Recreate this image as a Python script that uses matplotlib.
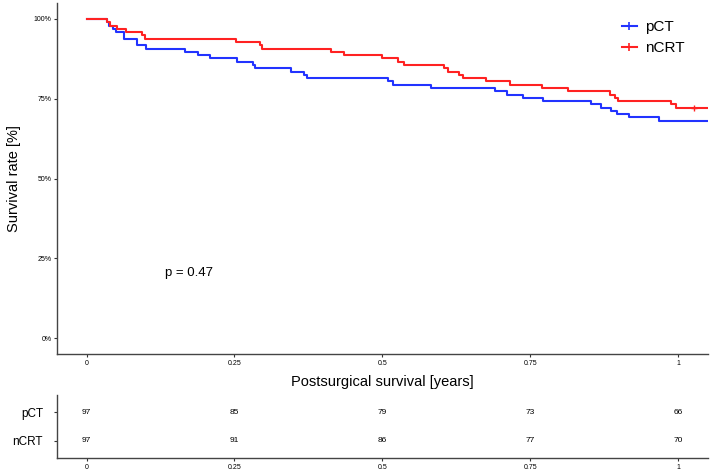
import numpy as np
import matplotlib
matplotlib.use("Agg")
import matplotlib.pyplot as plt
from matplotlib.lines import Line2D

plt.rcParams['font.family'] = ['Liberation Sans', 'DejaVu Sans']

# Kaplan-Meier curves (time in years, survival fraction)
t_pct = [0, 0.034, 0.038, 0.044, 0.049, 0.064, 0.085, 0.100, 0.167, 0.189, 0.209,
         0.255, 0.282, 0.285, 0.345, 0.367, 0.372, 0.509, 0.518, 0.582, 0.690,
         0.710, 0.737, 0.772, 0.852, 0.869, 0.887, 0.897, 0.917, 0.967, 1.05]
s_pct = [1.0, 0.990, 0.979, 0.969, 0.959, 0.938, 0.918, 0.907, 0.897, 0.887, 0.876,
         0.866, 0.856, 0.845, 0.835, 0.825, 0.814, 0.804, 0.794, 0.784, 0.773,
         0.763, 0.753, 0.742, 0.732, 0.722, 0.711, 0.701, 0.691, 0.680, 0.680]

t_ncrt = [0, 0.034, 0.040, 0.051, 0.066, 0.094, 0.098, 0.253, 0.293, 0.297, 0.413,
          0.436, 0.500, 0.527, 0.537, 0.605, 0.611, 0.629, 0.636, 0.675, 0.715,
          0.770, 0.813, 0.885, 0.894, 0.899, 0.988, 0.997, 1.05]
s_ncrt = [1.0, 0.990, 0.979, 0.969, 0.959, 0.948, 0.938, 0.928, 0.918, 0.907, 0.897,
          0.887, 0.876, 0.866, 0.856, 0.845, 0.835, 0.825, 0.814, 0.804, 0.794,
          0.784, 0.773, 0.763, 0.753, 0.742, 0.732, 0.722, 0.722]
censor_ncrt_t = [1.027]
censor_ncrt_s = [0.722]

groups = ['pCT', 'nCRT']
colors = ['#2233ff', '#ff2222']

# numbers at risk
risk_times = [0, 0.25, 0.5, 0.75, 1]
risk_pct = [97, 85, 79, 73, 66]
risk_ncrt = [97, 91, 86, 77, 70]

xticks = [0, 0.25, 0.5, 0.75, 1]
xlabels = ['0', '0.25', '0.5', '0.75', '1']
yticks = [0, 0.25, 0.5, 0.75, 1.0]
ylabels = ['0%', '25%', '50%', '75%', '100%']

fig = plt.figure(figsize=(7.12, 4.71), dpi=100)
ax = fig.add_axes([0.080, 0.248, 0.914, 0.746])

ax.step(t_pct, s_pct, where='post', color=colors[0], lw=1.5)
ax.step(t_ncrt, s_ncrt, where='post', color=colors[1], lw=1.5)
ax.plot(censor_ncrt_t, censor_ncrt_s, '+', color=colors[1], ms=5, mew=1)

ax.set_xlim(-0.05, 1.05)
ax.set_ylim(-0.05, 1.05)
ax.set_xticks(xticks)
ax.set_xticklabels(xlabels)
ax.set_yticks(yticks)
ax.set_yticklabels(ylabels)
ax.tick_params(labelsize=5, length=2, width=0.8, color='#333333', pad=2)
for side in ['top', 'right']:
    ax.spines[side].set_visible(False)
for side in ['left', 'bottom']:
    ax.spines[side].set_color('#444444')
    ax.spines[side].set_linewidth(1.0)
ax.set_ylabel('Survival rate [%]', fontsize=10.5, labelpad=9)
ax.set_xlabel('Postsurgical survival [years]', fontsize=10.5, labelpad=6)

ax.text(0.133, 0.203, 'p = 0.47', fontsize=9.5, ha='left', va='center')

handles = [Line2D([0], [0], color=c, lw=1.5, marker='+', ms=6, mew=1.2) for c in colors]
leg = ax.legend(handles, groups, loc='upper right', bbox_to_anchor=(0.985, 0.99),
                frameon=False, fontsize=11, handlelength=1.0, handletextpad=0.5,
                labelspacing=0.45)

# risk table
rax = fig.add_axes([0.080, 0.0276, 0.914, 0.134])
for i, (g, vals) in enumerate(zip(groups, [risk_pct, risk_ncrt])):
    ypos = 2 - i
    for t, v in zip(risk_times, vals):
        rax.text(t, ypos, str(v), fontsize=6, ha='center', va='center')
rax.set_xlim(-0.05, 1.05)
rax.set_ylim(0.4, 2.6)
rax.set_yticks([2, 1])
rax.set_yticklabels(groups, fontsize=8.5)
rax.set_xticks(xticks)
rax.set_xticklabels(xlabels)
rax.tick_params(axis='x', labelsize=5, length=2, width=0.8, color='#333333', pad=2)
rax.tick_params(axis='y', length=2, width=0.8, color='#333333', pad=8)
for side in ['top', 'right']:
    rax.spines[side].set_visible(False)
for side in ['left', 'bottom']:
    rax.spines[side].set_color('#444444')
    rax.spines[side].set_linewidth(1.0)

fig.savefig('out.png', dpi=100)
